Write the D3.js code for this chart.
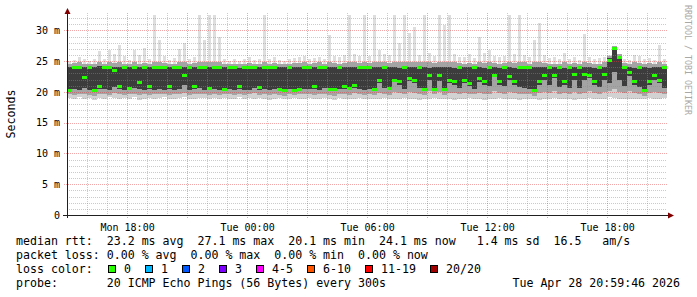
<!DOCTYPE html>
<meta charset="utf-8">
<script src="https://cdn.jsdelivr.net/npm/d3@7/dist/d3.min.js"></script>
<style>
body { margin: 0; background: #fff; }
text { font-family: "DejaVu Sans Mono", "Liberation Mono", monospace; fill: #000; }
</style>
<body>
<script>

// 15 minute columns, Mon 14:59 -> Tue 20:59 (120 columns)
var medianMs = [
20.3,24.0,24.0,22.5,24.0,20.3,20.9,24.0,24.0,23.6,
20.9,24.0,20.6,24.0,21.6,24.0,20.9,24.0,24.0,24.0,
20.9,24.0,24.0,22.8,24.0,20.9,24.0,24.0,20.6,24.0,
24.0,20.4,24.0,24.0,21.0,24.0,24.0,24.0,20.8,24.0,
24.0,24.0,20.4,20.3,24.0,20.3,20.4,24.0,24.0,20.9,
24.0,24.0,20.5,20.4,24.0,21.0,20.6,21.2,24.0,24.0,
24.0,20.5,21.9,24.0,20.6,22.0,21.8,24.0,22.2,22.0,
24.0,20.4,22.8,20.5,22.8,20.4,22.0,21.8,24.0,22.0,
21.5,24.0,22.3,21.7,24.0,22.8,21.7,24.0,22.6,21.7,
24.0,24.0,24.0,20.3,21.7,22.8,24.0,22.8,24.0,21.7,
24.0,22.9,24.0,22.9,22.8,21.7,24.0,22.9,25.2,27.1,
25.6,24.0,23.2,21.7,24.0,20.3,21.7,22.8,22.0,24.0];

var maxMs = [
25.0,25.2,25.7,25.3,25.0,25.4,26.6,25.3,26.8,26.2,
27.6,25.8,25.2,26.8,26.0,27.1,25.4,32.5,28.4,25.8,
25.2,25.5,27.0,28.0,25.4,25.6,32.5,28.5,32.5,32.5,
29.0,25.3,25.1,25.4,25.0,25.3,25.6,25.2,25.4,32.8,
25.3,25.6,25.2,25.0,25.3,25.5,25.6,25.8,25.4,25.5,
25.7,25.4,29.3,25.8,25.6,26.0,32.5,26.2,25.8,32.5,
25.9,32.5,26.8,26.2,26.0,32.5,28.0,32.5,29.6,30.6,
26.0,32.5,26.4,25.8,32.5,30.9,32.5,26.1,25.7,25.6,
26.1,25.5,29.0,26.4,26.8,25.9,25.6,25.8,32.5,26.2,
32.5,26.0,25.6,28.5,31.2,26.0,25.5,25.6,25.3,26.3,
25.4,25.6,25.2,29.4,25.6,25.4,25.5,25.7,26.0,27.5,
26.2,25.4,25.2,26.0,25.8,25.3,25.5,25.2,27.6,25.3];

var minMs = [
19.0,18.9,19.1,18.8,19.0,18.7,19.0,18.9,19.1,19.0,
18.8,19.0,18.9,19.1,18.7,18.9,19.0,18.8,19.0,19.1,
18.9,18.8,19.0,19.1,18.9,18.8,19.0,19.0,18.9,19.0,
18.9,19.0,18.8,18.9,19.1,18.9,19.0,18.8,19.0,18.9,
18.7,18.9,19.0,18.8,18.9,19.0,18.8,18.9,19.0,18.9,
18.8,19.0,18.9,18.7,19.0,18.9,18.8,18.9,19.0,18.9,
18.8,18.9,18.8,19.0,18.9,18.8,18.9,19.0,18.8,18.9,
18.7,18.9,18.8,19.0,18.9,18.8,18.9,18.7,18.9,18.8,
19.0,18.9,18.8,18.7,18.9,18.8,19.0,18.9,18.8,18.9,
18.7,18.9,18.8,18.9,18.7,18.9,18.8,19.0,18.9,18.8,
18.9,18.7,18.9,18.8,19.0,18.9,18.8,18.9,19.2,19.0,
18.9,18.8,18.9,18.8,18.9,18.8,19.0,18.9,18.8,19.0];

var midLoMs = [
19.6,19.5,19.7,19.6,19.5,19.4,19.6,19.7,19.5,19.8,
19.6,19.5,19.6,19.7,19.5,19.6,19.5,19.6,19.7,19.6,
19.5,19.6,19.7,19.8,19.5,19.6,19.7,19.6,19.5,19.6,
19.5,19.6,19.7,19.5,19.6,19.5,19.6,19.8,19.5,19.6,
19.5,19.6,19.5,19.4,19.6,19.5,19.6,19.7,19.6,19.5,
19.6,19.7,19.5,19.4,19.6,19.7,19.5,19.8,19.6,19.5,
19.6,19.5,19.9,19.6,19.5,20.0,19.8,19.6,20.0,19.9,
19.6,19.5,20.2,19.6,20.0,19.5,19.8,19.9,19.6,19.8,
19.7,19.6,19.9,19.7,19.6,20.2,19.8,19.7,20.0,19.8,
19.7,19.6,19.6,19.4,19.8,20.0,19.8,20.1,19.7,19.8,
19.6,20.0,19.6,19.9,20.1,19.8,19.7,20.0,20.2,20.4,
20.0,19.8,20.2,19.8,19.7,19.4,19.8,20.0,19.8,19.6];

var midHiMs = [
24.6,24.7,24.8,24.6,24.5,24.6,24.8,24.6,24.9,24.7,
24.8,24.6,24.5,24.8,24.6,24.7,24.6,24.9,24.8,24.7,
24.6,24.5,24.8,24.9,24.6,24.7,24.9,24.8,24.8,24.9,
24.8,24.6,24.5,24.6,24.5,24.6,24.7,24.6,24.6,24.8,
24.6,24.7,24.6,24.5,24.6,24.7,24.7,24.8,24.6,24.7,
24.8,24.6,24.9,24.7,24.6,24.7,24.9,24.8,24.7,24.9,
24.7,24.9,24.8,24.8,24.7,24.9,24.9,24.9,24.9,24.9,
24.8,24.9,24.8,24.7,24.9,24.9,24.9,24.8,24.7,24.6,
24.7,24.6,24.9,24.7,24.8,24.7,24.6,24.7,24.9,24.7,
24.9,24.8,24.6,24.9,24.9,24.7,24.6,24.6,24.5,24.8,
24.6,24.7,24.5,24.9,24.7,24.6,24.6,24.8,25.8,27.4,
26.2,24.7,24.6,24.8,24.7,24.6,24.7,24.6,24.9,24.6];

var coreLoMs = [
20.3,20.4,20.3,20.6,20.3,20.2,20.5,20.4,20.3,20.8,
20.4,20.3,20.3,20.6,20.4,20.3,20.5,20.3,20.4,20.3,
20.5,20.3,20.4,21.2,20.3,20.4,20.6,20.3,20.3,20.4,
20.3,20.3,20.5,20.3,20.4,20.3,20.3,20.6,20.3,20.4,
20.3,20.5,20.2,20.2,20.4,20.2,20.3,20.5,20.4,20.4,
20.3,20.6,20.3,20.2,20.4,20.5,20.3,20.6,20.4,20.3,
20.5,20.3,21.4,20.6,20.4,21.6,21.2,20.5,21.8,21.5,
20.6,20.3,22.0,20.4,21.8,20.3,21.4,21.2,20.6,21.5,
21.0,20.5,21.6,21.2,21.0,22.4,21.2,21.0,22.0,21.2,
20.8,20.6,20.5,20.2,21.2,22.0,21.2,22.2,20.8,21.2,
20.7,22.0,20.6,22.0,22.2,21.2,20.8,22.0,21.5,23.3,
22.0,21.0,22.6,21.2,20.8,20.2,21.2,22.0,21.5,20.6];

var coreHiMs = [
24.1,24.2,24.1,24.0,24.1,24.1,24.2,24.1,24.1,24.0,
24.1,24.2,24.1,24.1,24.0,24.2,24.1,24.1,24.2,24.1,
24.0,24.1,24.2,24.0,24.1,24.1,24.2,24.2,24.1,24.2,
24.1,24.0,24.1,24.2,23.9,24.1,24.2,24.1,24.0,24.1,
24.2,24.1,24.0,24.1,24.2,24.0,24.1,24.2,24.1,24.0,
24.1,24.2,24.0,24.1,24.1,24.0,24.1,24.0,24.1,24.2,
24.1,24.0,24.0,24.1,24.0,24.0,23.9,24.1,24.0,24.1,
24.2,24.0,23.9,24.1,24.0,24.0,24.0,23.9,24.2,24.0,
24.0,24.1,24.0,23.9,24.1,24.0,23.9,24.1,24.0,23.9,
24.1,24.2,24.1,24.0,24.0,24.0,24.1,24.0,24.2,23.9,
24.1,24.0,24.2,24.0,24.0,23.9,24.1,24.0,25.5,27.3,
25.9,24.1,24.0,23.9,24.1,24.0,23.9,24.0,24.0,24.1];

var yTicks = [0, 5, 10, 15, 20, 25, 30];
var yTickLabels = ["0", "5 m", "10 m", "15 m", "20 m", "25 m", "30 m"];

var lossLabels = ["0", "1", "2", "3", "4-5", "6-10", "11-19", "20/20"];
var lossColors = ["#26ff00", "#00b8ff", "#0059ff", "#7e00ff", "#ff00ff", "#ff5500", "#ff0000", "#a10000"];

var legendLines = [
  "median rtt:  23.2 ms avg  27.1 ms max  20.1 ms min  24.1 ms now   1.4 ms sd  16.5   am/s",
  "packet loss: 0.00 % avg  0.00 % max  0.00 % min  0.00 % now"
];
var probeText = "probe:       20 ICMP Echo Pings (56 Bytes) every 300s";
var stampText = "Tue Apr 28 20:59:46 2026";

// Set the dimensions of the canvas.
var margin = {top: 15, left: 67},
    width = 600,
    height = 200;

var endTime = new Date(Date.UTC(2026, 3, 28, 20, 59, 46));
var startTime = d3.utcHour.offset(endTime, -30);

var svg = d3.select("body").append("svg")
    .attr("width", 697)
    .attr("height", 297);

var plot = svg.append("g")
    .attr("transform", "translate(" + margin.left + "," + margin.top + ")");

var x = d3.scaleUtc()
  .domain([startTime, endTime])
  .range([0, width]);

var y = d3.scaleLinear()
  .domain([0, 32.5])
  .range([height, 0]);

plot.append("clipPath")
    .attr("id", "clip")
  .append("rect")
    .attr("width", width)
    .attr("height", height);

var cols = medianMs.map(function(m, i) {
  return {t: d3.utcMinute.offset(startTime, i * 15), med: m,
          max: maxMs[i], min: minMs[i], mlo: midLoMs[i], mhi: midHiMs[i],
          clo: coreLoMs[i], chi: coreHiMs[i]};
});
var colW = x(d3.utcMinute.offset(startTime, 15)) - x(startTime);

var smoke = plot.append("g").attr("clip-path", "url(#clip)");

// Smoke layers, outer to inner. inset narrows the rect (spikes are thin).
var layer = function(cls, lo, hi, color, inset) {
  smoke.selectAll("." + cls)
      .data(cols)
    .enter().append("rect")
      .attr("class", cls)
      .attr("x", function(d) { return x(d.t) + inset; })
      .attr("width", colW - 2 * inset)
      .attr("y", function(d) { return y(d[hi]); })
      .attr("height", function(d) { return Math.max(0, y(d[lo]) - y(d[hi])); })
      .attr("fill", color)
      .attr("shape-rendering", "crispEdges");
};
layer("spike", "mhi", "max", "#dedede", 1);
layer("haze", "min", "mhi", "#d2d2d2", 0);
layer("mid", "mlo", "mhi", "#a4a4a4", 0);
layer("core", "clo", "chi", "#3c3c3c", 0);

// Grid lines (drawn over the smoke like rrdtool does).
var hours = d3.utcHour.range(startTime, endTime);
var minorY = d3.range(1, 33).filter(function(v) { return v % 5 != 0; });

plot.selectAll(".gridy")
    .data(minorY)
  .enter().append("line")
    .attr("x1", 0).attr("x2", width)
    .attr("y1", function(d) { return Math.round(y(d)) + 0.5; })
    .attr("y2", function(d) { return Math.round(y(d)) + 0.5; })
    .attr("stroke", "rgba(140,140,140,0.45)")
    .attr("stroke-dasharray", "1,1");

plot.selectAll(".gridx")
    .data(hours.filter(function(d) { return d.getUTCHours() % 3 != 0; }))
  .enter().append("line")
    .attr("x1", function(d) { return Math.round(x(d)) + 0.5; })
    .attr("x2", function(d) { return Math.round(x(d)) + 0.5; })
    .attr("y1", -2).attr("y2", height)
    .attr("stroke", "rgba(140,140,140,0.45)")
    .attr("stroke-dasharray", "1,1");

var majorColor = "rgba(225,60,60,0.45)";

plot.selectAll(".mgridy")
    .data(yTicks.slice(1))
  .enter().append("line")
    .attr("x1", -3).attr("x2", width)
    .attr("y1", function(d) { return Math.round(y(d)) + 0.5; })
    .attr("y2", function(d) { return Math.round(y(d)) + 0.5; })
    .attr("stroke", majorColor)
    .attr("stroke-dasharray", "1,1");

var majorHours = hours.filter(function(d) { return d.getUTCHours() % 3 == 0; });

plot.selectAll(".mgridx")
    .data(majorHours)
  .enter().append("line")
    .attr("x1", function(d) { return Math.round(x(d)) + 0.5; })
    .attr("x2", function(d) { return Math.round(x(d)) + 0.5; })
    .attr("y1", -2).attr("y2", height + 3)
    .attr("stroke", majorColor)
    .attr("stroke-dasharray", "1,1");

// Median rtt, coloured by loss (all 0 here).
plot.append("g").attr("clip-path", "url(#clip)")
  .selectAll(".med")
    .data(cols)
  .enter().append("rect")
    .attr("class", "med")
    .attr("x", function(d) { return x(d.t); })
    .attr("width", colW)
    .attr("y", function(d) { return Math.round(y(d.med)) - 1; })
    .attr("height", 3)
    .attr("fill", lossColors[0])
    .attr("shape-rendering", "crispEdges");

// Axes labels.
var yAxis = plot.append("g")
    .call(d3.axisLeft(y)
      .tickValues(yTicks)
      .tickSize(0)
      .tickPadding(7)
      .tickFormat(function(d, i) { return yTickLabels[i]; }));
yAxis.select(".domain").remove();
yAxis.selectAll("text")
    .attr("font-family", "DejaVu Sans Mono")
    .attr("font-size", "10px")
    .style("white-space", "pre");

var xAxis = plot.append("g")
    .attr("transform", "translate(0," + height + ")")
    .call(d3.axisBottom(x)
      .tickValues(majorHours.filter(function(d) { return d.getUTCHours() % 6 == 0; }))
      .tickSize(0)
      .tickPadding(9)
      .tickFormat(d3.utcFormat("%a %H:%M")));
xAxis.select(".domain").remove();
xAxis.selectAll("text")
    .attr("font-family", "DejaVu Sans Mono")
    .attr("font-size", "10px");

// Axis lines and arrows.
plot.append("line")
    .attr("x1", 0.5).attr("x2", 0.5)
    .attr("y1", -2).attr("y2", height + 3)
    .attr("stroke", "#202020");
plot.append("line")
    .attr("x1", -4).attr("x2", width + 1)
    .attr("y1", height + 0.5).attr("y2", height + 0.5)
    .attr("stroke", "#202020");
plot.append("path")
    .attr("d", "M0.5,-7 L-2.5,-1 L3.5,-1 Z")
    .attr("fill", "#800000");
plot.append("path")
    .attr("d", "M" + (width + 7) + "," + (height + 0.5) + " L" + (width + 1) + "," + (height - 2.5) + " L" + (width + 1) + "," + (height + 3.5) + " Z")
    .attr("fill", "#800000");

// Vertical title and watermark.
svg.append("text")
    .attr("transform", "translate(15,114) rotate(-90)")
    .attr("text-anchor", "middle")
    .attr("font-size", "11.6px")
    .text("Seconds");

svg.append("text")
    .attr("transform", "translate(685,5) rotate(90)")
    .attr("font-size", "8.3px")
    .style("fill", "#a8a8a8")
    .text("RRDTOOL / TOBI OETIKER");

// Legend.
var legend = svg.append("g")
    .attr("font-size", "11.6px");

legend.selectAll(".line")
    .data(legendLines)
  .enter().append("text")
    .attr("x", 16)
    .attr("y", function(d, i) { return 245 + i * 14; })
    .style("white-space", "pre")
    .text(function(d) { return d; });

legend.append("text")
    .attr("x", 16)
    .attr("y", 273)
    .text("loss color:");

var bx = 108;
lossLabels.forEach(function(lab, i) {
  legend.append("rect")
      .attr("x", bx + 0.5).attr("y", 265.5)
      .attr("width", 7).attr("height", 7)
      .attr("fill", lossColors[i])
      .attr("stroke", "#000");
  legend.append("text")
      .attr("x", bx + 16)
      .attr("y", 273)
      .text(lab);
  bx = bx + 16 + lab.length * 7 + 14;
});

legend.append("text")
    .attr("x", 16)
    .attr("y", 287)
    .style("white-space", "pre")
    .text(probeText);

legend.append("text")
    .attr("x", 680)
    .attr("y", 287)
    .attr("text-anchor", "end")
    .text(stampText);

</script>
</body>
